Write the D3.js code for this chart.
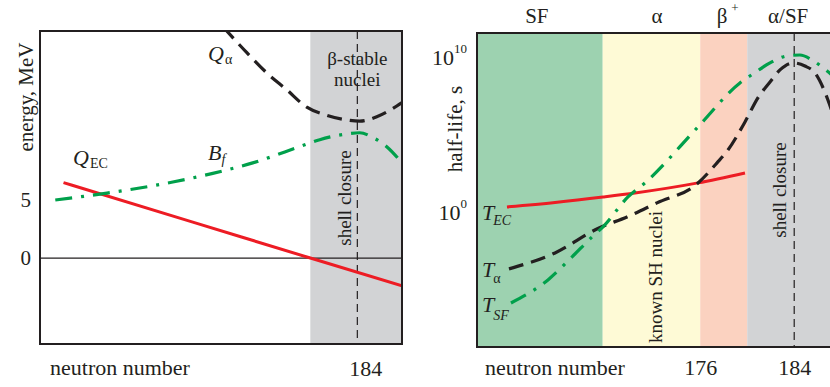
<!DOCTYPE html>
<html>
<head>
<meta charset="utf-8">
<script src="https://cdn.jsdelivr.net/npm/d3@7"></script>
<style>
  body { margin: 0; background: #fff; }
  svg { display: block; font-family: "Liberation Serif", "DejaVu Serif", serif; fill: #231f20; }
</style>
</head>
<body>
<div id="chart"></div>
<script>
// Left panel: energies (MeV) vs neutron number
const qecN = [159, 170, 180, 187.8];
const qecE = [6.5, 3.1, 0, -2.4];
const qaN = [172.6, 174.6, 176.3, 178.0, 179.7, 181.4, 183.1, 184.2, 185.7, 187.8];
const qaE = [19.9, 17.7, 15.95, 14.5, 13.0, 12.3, 11.9, 11.8, 12.2, 13.4];
const bfN = [158.3, 162.7, 168.3, 171.7, 175.1, 179.1, 180.8, 183.1, 184.2, 185.3, 186.5, 187.8];
const bfE = [5.0, 5.6, 6.55, 7.3, 8.2, 9.6, 10.2, 10.7, 10.8, 10.4, 9.6, 8.2];
const energyTicks = [0, 5];
const leftXTicks = [184];

// Right panel: half-lives (log10 of seconds) vs neutron number
const tecN = [159.55, 163.64, 167.72, 170.45, 175.81, 179.81];
const tecLog = [0.39, 0.68, 1.03, 1.29, 1.94, 2.58];
const taN = [159.72, 163.64, 167.38, 169.77, 172.32, 175.72, 177.43, 178.36, 179.81, 180.91, 181.94, 182.79, 183.89, 184.91, 185.77, 186.87, 187.4];
const taLog = [-3.61, -2.58, -0.97, -0.26, 0.65, 1.87, 3.23, 4.06, 5.87, 7.42, 8.45, 9.23, 9.68, 9.48, 9.03, 7.29, 6.1];
const tsfN = [159.89, 163.04, 165.09, 166.79, 167.72, 169.85, 171.3, 175.81, 179.38, 180.49, 181.94, 183.38, 184.49, 185.51, 186.36, 187.21];
const tsfLog = [-5.81, -4.32, -2.84, -1.55, -0.9, 1.03, 1.94, 5.55, 8.39, 8.97, 9.68, 10.13, 10.19, 9.87, 9.42, 8.9];
const halfLifeTicks = [0, 10];
const rightXTicks = [176, 184];

// decay-mode bands
const bandEdges = [157, 167.7, 176, 180, 189.6];
const bandColors = ['#9dd2b0', '#fefad6', '#fbd2c0', '#d2d3d5'];
const bandLabels = ['SF', 'α', 'β', 'α/SF'];
const shellClosure = 184;

const RED = '#ed1c24', GREEN = '#00a04b', BLACK = '#231f20', GRAY = '#d2d3d5';
const zip = (a, b) => a.map((v, i) => [v, b[i]]);

const svg = d3.select('#chart').append('svg')
  .attr('width', 830).attr('height', 387);

// ---------- left panel ----------
const L = {left: 40, right: 402, top: 31, bottom: 344};
const xL = d3.scaleLinear().domain([157, 187.8]).range([L.left, L.right]);
const yL = d3.scaleLinear().domain([-7.41, 19.57]).range([L.bottom, L.top]);

svg.append('clipPath').attr('id', 'clipL').append('rect')
  .attr('x', L.left).attr('y', L.top).attr('width', L.right - L.left).attr('height', L.bottom - L.top);

svg.append('rect')
  .attr('x', xL(180)).attr('y', L.top)
  .attr('width', xL(187.8) - xL(180)).attr('height', L.bottom - L.top)
  .attr('fill', GRAY);

svg.append('line')
  .attr('x1', L.left).attr('x2', L.right).attr('y1', yL(0)).attr('y2', yL(0))
  .attr('stroke', BLACK).attr('stroke-width', 1.3);

svg.append('line')
  .attr('x1', xL(shellClosure)).attr('x2', xL(shellClosure)).attr('y1', L.top).attr('y2', L.bottom)
  .attr('stroke', BLACK).attr('stroke-width', 1.2).attr('stroke-dasharray', '8,5');

const lineL = d3.line().x(d => xL(d[0])).y(d => yL(d[1])).curve(d3.curveMonotoneX);
const gL = svg.append('g').attr('clip-path', 'url(#clipL)');
gL.append('path').datum(zip(qecN, qecE)).attr('d', lineL)
  .attr('fill', 'none').attr('stroke', RED).attr('stroke-width', 3);
gL.append('path').datum(zip(qaN, qaE)).attr('d', lineL)
  .attr('fill', 'none').attr('stroke', BLACK).attr('stroke-width', 3.2).attr('stroke-dasharray', '15,8');
gL.append('path').datum(zip(bfN, bfE)).attr('d', lineL)
  .attr('fill', 'none').attr('stroke', GREEN).attr('stroke-width', 3.2).attr('stroke-dasharray', '17,9,3,9');

svg.append('rect')
  .attr('x', L.left).attr('y', L.top).attr('width', L.right - L.left).attr('height', L.bottom - L.top)
  .attr('fill', 'none').attr('stroke', BLACK).attr('stroke-width', 2);

// axes (labels only, no tick marks)
const yAxisL = svg.append('g').attr('transform', `translate(${L.left},0)`)
  .call(d3.axisLeft(yL).tickValues(energyTicks).tickSize(0).tickPadding(9));
yAxisL.select('.domain').remove();
yAxisL.selectAll('text').attr('font-size', 21).attr('font-family', 'Liberation Serif').attr('fill', BLACK);

const xAxisL = svg.append('g').attr('transform', `translate(0,${L.bottom})`)
  .call(d3.axisBottom(xL).tickValues(leftXTicks).tickSize(0));
xAxisL.select('.domain').remove();
xAxisL.selectAll('text').attr('font-size', 22).attr('font-family', 'Liberation Serif').attr('fill', BLACK)
  .attr('y', 32).attr('dy', 0).attr('dx', 8);

svg.append('text').attr('x', 50).attr('y', 375).attr('font-size', 22).text('neutron number');
svg.append('text').attr('transform', 'translate(33,97) rotate(-90)')
  .attr('text-anchor', 'middle').attr('font-size', 21).text('energy, MeV');

// in-plot labels
const qa = svg.append('text').attr('x', 208).attr('y', 61).attr('font-size', 22);
qa.append('tspan').attr('font-style', 'italic').text('Q');
qa.append('tspan').attr('font-size', 14).attr('dx', 1).attr('dy', 3).text('α');

const qec = svg.append('text').attr('x', 73).attr('y', 165).attr('font-size', 22);
qec.append('tspan').attr('font-style', 'italic').text('Q');
qec.append('tspan').attr('font-size', 14).attr('dx', 1).attr('dy', 3).text('EC');

const bf = svg.append('text').attr('x', 208).attr('y', 160).attr('font-size', 22);
bf.append('tspan').attr('font-style', 'italic').text('B');
bf.append('tspan').attr('font-style', 'italic').attr('font-size', 14).attr('dx', 0).attr('dy', 4).text('f');

svg.append('text').attr('x', xL(shellClosure)).attr('y', 65).attr('text-anchor', 'middle')
  .attr('font-size', 19).text('β-stable');
svg.append('text').attr('x', xL(shellClosure)).attr('y', 86).attr('text-anchor', 'middle')
  .attr('font-size', 19).text('nuclei');
svg.append('text').attr('transform', 'translate(351,198) rotate(-90)')
  .attr('text-anchor', 'middle').attr('font-size', 19).text('shell closure');

// ---------- right panel ----------
const R = {left: 477, right: 860, top: 33, bottom: 347};
const xR = d3.scaleLinear().domain([157, 189.6]).range([R.left, R.right]);
const yR = d3.scaleLog().domain([10 ** -8.65, 10 ** 11.61]).range([R.bottom, R.top]);

svg.append('clipPath').attr('id', 'clipR').append('rect')
  .attr('x', R.left).attr('y', R.top).attr('width', R.right - R.left).attr('height', R.bottom - R.top);

const bands = d3.range(bandColors.length).map(i => ({
  from: bandEdges[i], to: bandEdges[i + 1], color: bandColors[i], label: bandLabels[i]
}));

svg.selectAll('rect.band').data(bands).enter().append('rect')
  .attr('class', 'band')
  .attr('x', d => xR(d.from)).attr('y', R.top)
  .attr('width', d => xR(d.to) - xR(d.from)).attr('height', R.bottom - R.top)
  .attr('fill', d => d.color);

// decay mode labels above the bands (the α/SF one sits over the shell closure)
const modeX = [xR(bandEdges[0]) + (xR(bandEdges[1]) - xR(bandEdges[0])) / 2 - 3,
  657, 722, xR(shellClosure) - 6];
bands.forEach((b, i) => {
  svg.append('text').attr('x', modeX[i]).attr('y', 23)
    .attr('text-anchor', 'middle').attr('font-size', 21).text(b.label);
  if (b.label === 'β') {
    svg.append('text').attr('x', 735).attr('y', 12).attr('text-anchor', 'middle')
      .attr('font-size', 13).text('+');
  }
});

svg.append('line')
  .attr('x1', xR(shellClosure)).attr('x2', xR(shellClosure)).attr('y1', R.top).attr('y2', R.bottom)
  .attr('stroke', BLACK).attr('stroke-width', 1.2).attr('stroke-dasharray', '8,5');

const lineR = d3.line().x(d => xR(d[0])).y(d => yR(10 ** d[1])).curve(d3.curveMonotoneX);
const gR = svg.append('g').attr('clip-path', 'url(#clipR)');
gR.append('path').datum(zip(tecN, tecLog)).attr('d', lineR)
  .attr('fill', 'none').attr('stroke', RED).attr('stroke-width', 3);
gR.append('path').datum(zip(taN, taLog)).attr('d', lineR)
  .attr('fill', 'none').attr('stroke', BLACK).attr('stroke-width', 3.2).attr('stroke-dasharray', '15,8');
gR.append('path').datum(zip(tsfN, tsfLog)).attr('d', lineR)
  .attr('fill', 'none').attr('stroke', GREEN).attr('stroke-width', 3.2).attr('stroke-dasharray', '17,9,3,9');

svg.append('rect')
  .attr('x', R.left).attr('y', R.top).attr('width', R.right - R.left).attr('height', R.bottom - R.top)
  .attr('fill', 'none').attr('stroke', BLACK).attr('stroke-width', 2);

const yAxisR = svg.append('g').attr('transform', `translate(${R.left},0)`)
  .call(d3.axisLeft(yR).tickValues(halfLifeTicks.map(p => 10 ** p)).tickSize(0).tickPadding(10)
    .tickFormat(() => ''));
yAxisR.select('.domain').remove();
yAxisR.selectAll('.tick text').each(function (d) {
  const t = d3.select(this).attr('font-size', 22).attr('font-family', 'Liberation Serif')
    .attr('fill', BLACK).attr('dy', '0.32em');
  t.append('tspan').text('10');
  t.append('tspan').attr('font-size', 13).attr('dy', '-0.95em').text(Math.round(Math.log10(d)));
});

const xAxisR = svg.append('g').attr('transform', `translate(0,${R.bottom})`)
  .call(d3.axisBottom(xR).tickValues(rightXTicks).tickSize(0));
xAxisR.select('.domain').remove();
xAxisR.selectAll('text').attr('font-size', 22).attr('font-family', 'Liberation Serif').attr('fill', BLACK)
  .attr('y', 28).attr('dy', 0);

svg.append('text').attr('x', 485).attr('y', 375).attr('font-size', 22).text('neutron number');
svg.append('text').attr('transform', 'translate(462,129) rotate(-90)')
  .attr('text-anchor', 'middle').attr('font-size', 21).text('half-life, s');

// curve labels
const curveLabels = [
  {sub: 'EC', y: 220, subItalic: true, dy: 5},
  {sub: 'α', y: 277, subItalic: false, dy: 6},
  {sub: 'SF', y: 312, subItalic: true, dy: 8}
];
curveLabels.forEach(c => {
  const t = svg.append('text').attr('x', 482).attr('y', c.y).attr('font-size', 22);
  t.append('tspan').attr('font-style', 'italic').text('T');
  t.append('tspan').attr('font-style', c.subItalic ? 'italic' : 'normal')
    .attr('font-size', 14).attr('dx', -1).attr('dy', c.dy).text(c.sub);
});

svg.append('text').attr('transform', 'translate(662,277) rotate(-90)')
  .attr('text-anchor', 'middle').attr('font-size', 19).text('known SH nuclei');
svg.append('text').attr('transform', 'translate(786,190) rotate(-90)')
  .attr('text-anchor', 'middle').attr('font-size', 19).text('shell closure');
</script>
</body>
</html>
